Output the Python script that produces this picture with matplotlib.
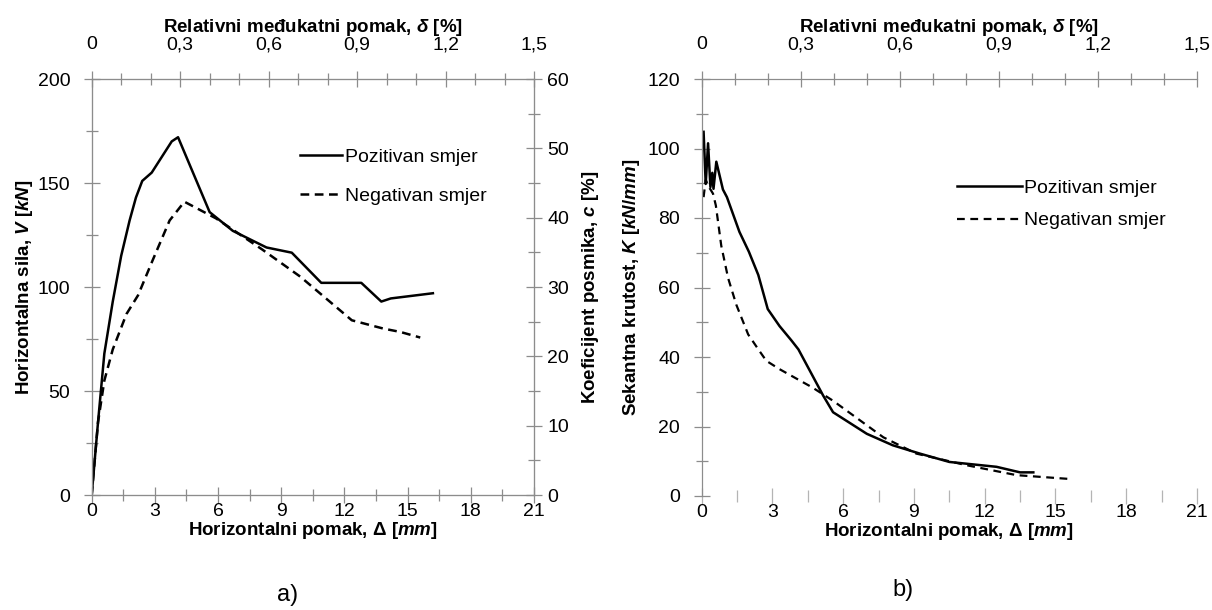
import numpy as np
import matplotlib.pyplot as plt
from matplotlib.ticker import MultipleLocator, FuncFormatter

plt.rcParams['font.family'] = ['Liberation Sans', 'DejaVu Sans']
plt.rcParams['mathtext.fontset'] = 'custom'
plt.rcParams['mathtext.it'] = 'Liberation Sans:italic:bold'
plt.rcParams['mathtext.rm'] = 'Liberation Sans:bold'
plt.rcParams['mathtext.bf'] = 'Liberation Sans:bold'

# a) horizontalna sila - pomak
a_pos_x = [0, 0.3, 0.6, 1.0, 1.4, 1.8, 2.1, 2.4, 2.85, 3.8, 4.1, 5.6, 6.7, 8.3, 9.5, 10.9, 12.8, 13.75, 14.2, 16.2]
a_pos_v = [0, 35, 68, 93, 115, 132, 143, 151, 155, 170, 172, 136, 127, 119, 116.5, 102, 102, 93, 94.5, 97]
a_neg_x = [0, 0.3, 0.6, 1.0, 1.65, 2.2, 2.9, 3.7, 4.4, 5.9, 8.1, 9.9, 12.35, 13.1, 13.85, 14.65, 15.6]
a_neg_v = [0, 35, 55, 70, 87, 96, 113, 132, 141, 133, 118, 105, 84, 82, 80, 78.4, 75.7]

# b) sekantna krutost - pomak
b_pos_x = [0.08, 0.17, 0.27, 0.37, 0.45, 0.5, 0.62, 0.9, 1.07, 1.6, 2.0, 2.4, 2.8, 3.3, 3.8, 4.1,
           5.15, 5.57, 7.0, 8.1, 9.25, 10.5, 12.5, 13.5, 14.06]
b_pos_k = [104.8, 89.8, 101.5, 88.9, 93, 88.4, 96.2, 88.2, 86, 76, 70.3, 63.6, 53.8, 48.9, 44.8, 42.2,
           28.9, 24.1, 17.9, 14.6, 12.2, 9.8, 8.4, 6.8, 6.8]
b_neg_x = [0.08, 0.17, 0.3, 0.48, 0.6, 0.83, 1.12, 1.47, 1.97, 2.4, 2.74, 3.3, 4.7, 5.57, 7.7, 9.1,
           11.2, 13.35, 15.6]
b_neg_k = [86, 91, 89, 87, 83.6, 72, 62.7, 55, 46.5, 42.2, 38.9, 36.5, 31.2, 27.4, 16.9, 12.2,
           8.9, 6.0, 4.9]

labels = ['Pozitivan smjer', 'Negativan smjer']
gray = '#8c8c8c'
W, H = 1212, 610

fig = plt.figure(figsize=(12.12, 6.10), dpi=100)
ax1 = fig.add_axes([91.7 / W, 1 - 495 / H, (534 - 91.7) / W, (495 - 79) / H])
ax2 = fig.add_axes([701.7 / W, 1 - 496 / H, (1197 - 701.7) / W, (496 - 79) / H])

comma = FuncFormatter(lambda v, p: ('%g' % round(v, 2)).replace('.', ','))
xlab = r'Horizontalni pomak, $\mathit{\Delta}$ [$\mathit{mm}$]'
toplab = r'Relativni međukatni pomak, $\mathit{\delta}$ [%]'


def style_ticks(a, axis='both', pad=4):
    a.tick_params(axis=axis, which='major', direction='inout', length=11, width=0.9, color=gray,
                  labelsize=14, pad=pad)
    a.tick_params(axis=axis, which='minor', direction='inout', length=8, width=0.9, color=gray)


def gray_spines(a):
    for s in a.spines.values():
        s.set_color(gray)


def top_axis(a, hide=()):
    t = a.twiny()
    t.set_xlim(0, 1.5)
    t.xaxis.set_major_locator(MultipleLocator(0.3))
    t.xaxis.set_minor_locator(MultipleLocator(0.1))
    t.xaxis.set_major_formatter(comma)
    gray_spines(t)
    for h in hide:
        t.spines[h].set_visible(False)
    style_ticks(t, 'x', pad=13)
    t.set_xlabel(toplab, fontsize=13.5, fontweight='bold', labelpad=3)
    return t


# ---- a) ----
ax1.plot(a_pos_x, a_pos_v, color='black', lw=1.8, label=labels[0])
ax1.plot(a_neg_x, a_neg_v, color='black', lw=1.8, ls=(0, (3.5, 2.2)), label=labels[1])
ax1.set_xlim(0, 21)
ax1.set_ylim(0, 200)
ax1.xaxis.set_major_locator(MultipleLocator(3))
ax1.xaxis.set_minor_locator(MultipleLocator(1.5))
ax1.yaxis.set_major_locator(MultipleLocator(50))
ax1.yaxis.set_minor_locator(MultipleLocator(25))
gray_spines(ax1)
style_ticks(ax1, 'x', pad=0)
style_ticks(ax1, 'y', pad=10)
ax1.set_xlabel(xlab, fontsize=13.5, fontweight='bold', labelpad=0)
ax1.set_ylabel(r'Horizontalna sila, $\mathit{V}$ [$\mathit{kN}$]', fontsize=13.5,
               fontweight='bold', labelpad=2)

top_axis(ax1)

r1 = ax1.twinx()
r1.set_ylim(0, 60)
r1.yaxis.set_major_locator(MultipleLocator(10))
r1.yaxis.set_minor_locator(MultipleLocator(5))
gray_spines(r1)
style_ticks(r1, 'y', pad=4)
r1.set_ylabel(r'Koeficijent posmika, $\mathit{c}$ [%]', fontsize=13.5, fontweight='bold',
              labelpad=8)

ax1.legend(frameon=False, fontsize=14, loc='center left', bbox_to_anchor=(0.471, 0.766),
           handlelength=2.15, handletextpad=0.15, labelspacing=1.1, borderaxespad=0,
           borderpad=0)

# ---- b) ----
ax2.plot(b_pos_x, b_pos_k, color='black', lw=1.8, label=labels[0])
ax2.plot(b_neg_x, b_neg_k, color='black', lw=1.6, ls=(0, (3.5, 2.5)), label=labels[1])
ax2.set_xlim(0, 21)
ax2.set_ylim(0, 120)
ax2.xaxis.set_major_locator(MultipleLocator(3))
ax2.xaxis.set_minor_locator(MultipleLocator(1.5))
ax2.yaxis.set_major_locator(MultipleLocator(20))
ax2.yaxis.set_minor_locator(MultipleLocator(10))
gray_spines(ax2)
ax2.spines['right'].set_visible(False)
ax2.spines['bottom'].set_visible(False)
style_ticks(ax2, 'x', pad=0)
style_ticks(ax2, 'y', pad=10)
ax2.tick_params(axis='x', which='both', color='#b4b4b4')
ax2.set_xlabel(xlab, fontsize=13.5, fontweight='bold', labelpad=0)
ax2.set_ylabel(r'Sekantna krutost, $\mathit{K}$ [$\mathit{kN/mm}$]', fontsize=13.5,
               fontweight='bold', labelpad=4)

top_axis(ax2, hide=('right', 'bottom'))

ax2.legend(frameon=False, fontsize=14, loc='center left', bbox_to_anchor=(0.515, 0.699),
           handlelength=3.35, handletextpad=0.12, labelspacing=0.75, borderaxespad=0,
           borderpad=0)

fig.text(288 / W, 1 - 595 / H, 'a)', fontsize=17, ha='center', va='center')
fig.text(903 / W, 1 - 590 / H, 'b)', fontsize=17, ha='center', va='center')

fig.savefig('out.png', dpi=100)
